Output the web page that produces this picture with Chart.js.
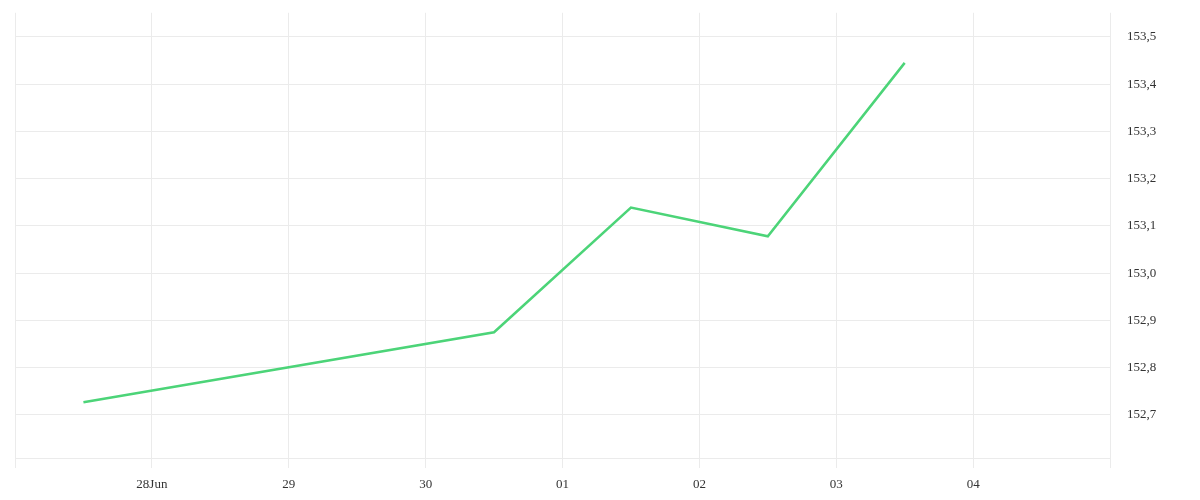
<!DOCTYPE html>
<html>
<head>
<meta charset="utf-8">
<script src="https://cdn.jsdelivr.net/npm/chart.js@4"></script>
<style>
html,body{margin:0;padding:0;background:#fff;}
#wrap{width:1200px;height:500px;position:relative;overflow:hidden;}
#c{position:absolute;left:0;top:-12px;}
</style>
</head>
<body>
<div id="wrap"><canvas id="c" width="1200" height="512"></canvas></div>
<script>
// Day positions (27 = 27 Jun 00:00, 31 = 01 Jul 00:00)
const dayPositions = [27.5, 30.5, 31.5, 32.5, 33.5];
const prices = [152.727, 152.875, 153.139, 153.078, 153.445];
const tickDays = [27, 28, 29, 30, 31, 32, 33, 34, 35];
const tickLabels = ['', '28Jun', '29', '30', '01', '02', '03', '04', ''];

const points = dayPositions.map((x, i) => ({x: x, y: prices[i]}));
const fontSpec = {family: '"Liberation Serif", serif', size: 13};

new Chart(document.getElementById('c'), {
  type: 'line',
  data: {
    datasets: [{
      data: points,
      borderColor: 'rgb(76, 212, 120)',
      borderWidth: 2.5,
      pointRadius: 0,
      tension: 0,
      fill: false
    }]
  },
  options: {
    responsive: false,
    animation: false,
    layout: {padding: {left: 15, top: 0, right: 0, bottom: 0}},
    plugins: {legend: {display: false}, tooltip: {enabled: false}},
    scales: {
      x: {
        type: 'linear',
        min: 27,
        max: 35,
        afterBuildTicks: (s) => { s.ticks = tickDays.map(v => ({value: v})); },
        afterFit: (s) => { s.height = 42; },
        ticks: {
          autoSkip: false,
          maxRotation: 0,
          padding: 9,
          color: '#333',
          font: fontSpec,
          callback: (v) => { const i = tickDays.indexOf(v); return i >= 0 ? tickLabels[i] : ''; }
        },
        grid: {color: '#ebebeb', lineWidth: 1, tickLength: 10, drawTicks: true},
        border: {color: '#ebebeb'}
      },
      y: {
        position: 'right',
        min: 152.609,
        max: 153.551,
        afterFit: (s) => { s.width = 90; },
        ticks: {
          stepSize: 0.1,
          includeBounds: false,
          padding: 17,
          color: '#333',
          font: fontSpec,
          callback: (v) => v.toFixed(1).replace('.', ',')
        },
        grid: {color: '#ebebeb', lineWidth: 1, drawTicks: false},
        border: {display: false}
      }
    }
  }
});
</script>
</body>
</html>
